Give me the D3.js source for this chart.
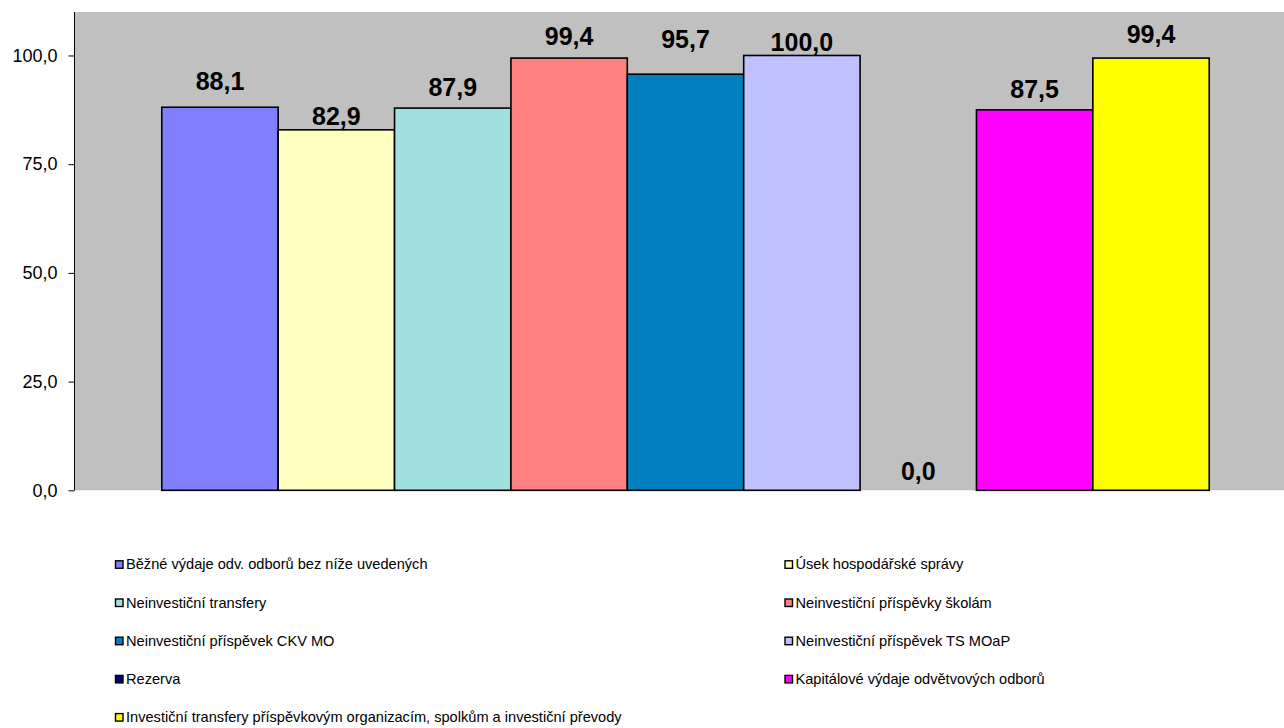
<!DOCTYPE html>
<html>
<head>
<meta charset="utf-8">
<script src="https://cdn.jsdelivr.net/npm/d3@7/dist/d3.min.js"></script>
<style>
html,body{margin:0;padding:0;background:#fff;overflow:hidden;}
svg{display:block;font-family:"Liberation Sans",Arial,sans-serif;}
</style>
</head>
<body>
<svg id="chart" width="1284" height="728"></svg>
<script>
// ---- data ----
const seriesNames = [
  "Běžné výdaje odv. odborů bez níže uvedených",
  "Úsek hospodářské správy",
  "Neinvestiční transfery",
  "Neinvestiční příspěvky školám",
  "Neinvestiční příspěvek CKV MO",
  "Neinvestiční příspěvek TS MOaP",
  "Rezerva",
  "Kapitálové výdaje odvětvových odborů",
  "Investiční transfery příspěvkovým organizacím, spolkům a investiční převody"
];
const seriesValues = [88.1, 82.9, 87.9, 99.4, 95.7, 100.0, 0.0, 87.5, 99.4];
const yTicks = [0, 25, 50, 75, 100];

// ---- style ----
const colors = ["#8080FF","#FFFFC0","#A0E0E0","#FF8080","#0080C0","#C0C0FF","#000080","#FF00FF","#FFFF00"];
const labelLift = [17, 5, 12, 12.7, 26, 4, 10, 12, 15]; // px gap between bar top and label baseline

const plot = {left: 74.5, right: 1296.5, top: 12, bottom: 490.3};
const svg = d3.select("#chart");

const x = d3.scaleBand().domain(d3.range(seriesNames.length))
  .range([plot.left, plot.right]).paddingInner(0).paddingOuter(0.75);
const y = d3.scaleLinear().domain([0, 110]).range([plot.bottom, plot.top]);
const fmt = v => d3.format(".1f")(v).replace(".", ",");

// plot background
svg.append("rect")
  .attr("x", plot.left).attr("y", plot.top)
  .attr("width", plot.right - plot.left).attr("height", plot.bottom - plot.top)
  .attr("fill", "#C0C0C0");

// bars
svg.append("g").selectAll("rect").data(seriesValues).join("rect")
  .attr("x", (d, i) => x(i))
  .attr("y", d => y(d))
  .attr("width", x.bandwidth())
  .attr("height", d => y(0) - y(d))
  .attr("fill", (d, i) => colors[i])
  .attr("stroke", "#000")
  .attr("stroke-width", d => d > 0 ? 1.6 : 0);

// y axis
const yAxis = d3.axisLeft(y).tickValues(yTicks).tickFormat(fmt).tickSize(6).tickPadding(11);
const gy = svg.append("g").attr("transform", `translate(${plot.left},0)`).call(yAxis);
gy.select(".domain").attr("d", `M0,${plot.top}V${plot.bottom}`).attr("stroke", "#000");
gy.selectAll(".tick line").attr("stroke", "#000");
gy.selectAll(".tick text").attr("font-size", 18).attr("fill", "#000")
  .attr("font-family", "'Liberation Sans',Arial,sans-serif");

// value labels
svg.append("g").selectAll("text").data(seriesValues).join("text")
  .attr("x", (d, i) => x(i) + x.bandwidth() / 2)
  .attr("y", (d, i) => y(d) - labelLift[i])
  .attr("text-anchor", "middle")
  .attr("font-size", 25).attr("font-weight", "bold").attr("fill", "#000")
  .text(d => fmt(d));

// legend
const legCols = [115, 784.5];
const legTop = 564.3, legStep = 38.2;
const leg = svg.append("g").selectAll("g").data(seriesNames).join("g")
  .attr("transform", (d, i) => `translate(${legCols[i % 2]},${legTop + Math.floor(i / 2) * legStep})`);
leg.append("rect")
  .attr("x", 0.5).attr("y", -3.5).attr("width", 7.5).attr("height", 7.5)
  .attr("fill", (d, i) => colors[i]).attr("stroke", "#000").attr("stroke-width", 1.4);
leg.append("text")
  .attr("x", 11).attr("y", 5)
  .attr("font-size", 14.6).attr("fill", "#000")
  .text(d => d);
</script>
</body>
</html>
